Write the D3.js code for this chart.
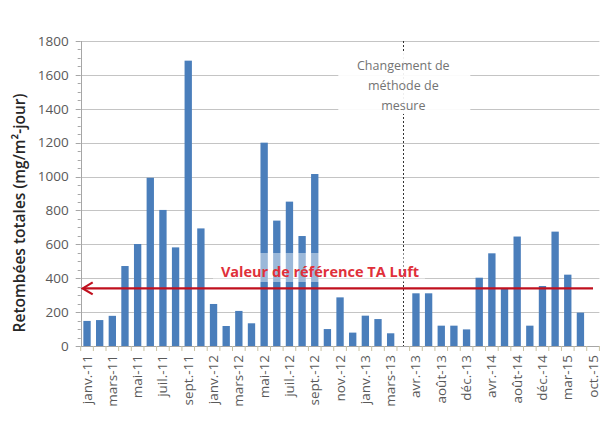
<!DOCTYPE html>
<html><head><meta charset="utf-8">
<script src="https://cdn.jsdelivr.net/npm/d3@7"></script>
<style>html,body{margin:0;padding:0;background:#fff;}svg{display:block;}</style>
</head><body>
<svg id="c" width="601" height="421"></svg>
<script>
const categories = ["janv.-11","févr.-11","mars-11","avr.-11","mai-11","juin-11","juil.-11","août-11","sept.-11","nov.-11",
  "janv.-12","févr.-12","mars-12","avr.-12","mai-12","juin-12","juil.-12","août-12","sept.-12","oct.-12",
  "nov.-12","déc.-12","janv.-13","févr.-13","mars-13","(changement)","avr.-13","juin-13","août-13","oct.-13",
  "déc.-13","févr.-14","avr.-14","juin-14","août-14","oct.-14","déc.-14","janv.-15","mar-15","juil.-15","oct.-15"];
const values = [148,153,178,472,602,993,803,582,1684,694,
  248,118,207,134,1200,740,852,649,1015,100,
  287,79,179,159,75,null,311,311,120,120,
  98,403,547,340,646,120,354,675,421,197,null];
const tickLabels = categories.map((c,i)=> i%2===0 ? c : "");
const yTicks = [0,200,400,600,800,1000,1200,1400,1600,1800];
const refValue = 340;
const refLabel = "Valeur de référence TA Luft";
const changeIndex = 25;
const changeLabel = ["Changement de","méthode de","mesure"];
const yTitle = "Retombées totales (mg/m²-jour)";

const svg = d3.select("#c");
const x0 = 80.7, x1 = 599.4, yTop = 41, yBot = 346;
const x = d3.scaleBand().domain(categories).range([x0,x1]).paddingInner(0.42).paddingOuter(0.21);
const y = d3.scaleLinear().domain([0,1800]).range([yBot,yTop]);
const font = "'Open Sans', sans-serif";

// gridlines
svg.append("g").selectAll("line").data(yTicks.filter(d=>d>0)).join("line")
  .attr("x1",x0).attr("x2",x1).attr("y1",d=>Math.round(y(d))+0.5).attr("y2",d=>Math.round(y(d))+0.5)
  .attr("stroke","#c4c4c4").attr("stroke-width",1);

// y minor ticks
const minor = d3.range(0,1801,50);
svg.append("g").selectAll("line").data(minor).join("line")
  .attr("x1",x0).attr("x2",d=> d%200===0 ? x0-5 : x0-3)
  .attr("y1",d=>Math.round(y(d))+0.5).attr("y2",d=>Math.round(y(d))+0.5)
  .attr("stroke","#a6a6a6");

// bars
svg.append("g").selectAll("rect").data(categories.map((c,i)=>({c,v:values[i]})).filter(d=>d.v!=null)).join("rect")
  .attr("x",d=>x(d.c)).attr("width",x.bandwidth())
  .attr("y",d=>y(d.v)).attr("height",d=>yBot-y(d.v))
  .attr("fill","#4a7ebb");

// axes lines
svg.append("line").attr("x1",Math.round(x0)+0.5).attr("x2",Math.round(x0)+0.5).attr("y1",yTop).attr("y2",yBot)
  .attr("stroke","#a6a6a6");
svg.append("line").attr("x1",x0).attr("x2",x1).attr("y1",yBot+0.5).attr("y2",yBot+0.5).attr("stroke","#a6a6a6");

// x ticks between categories
const step = x.step();
svg.append("g").selectAll("line").data(d3.range(categories.length+1)).join("line")
  .attr("x1",i=>x0+i*step).attr("x2",i=>x0+i*step).attr("y1",yBot).attr("y2",yBot+5)
  .attr("stroke","#c9c2a0");

// y tick labels
const yAxis = d3.axisLeft(y).tickValues(yTicks).tickFormat(d3.format("d")).tickSize(0).tickPadding(12);
const gy = svg.append("g").attr("transform",`translate(${x0},0)`).call(yAxis);
gy.select(".domain").remove();
gy.selectAll("text").attr("font-family",font).attr("font-size",13.5).attr("fill","#595959");

// x tick labels
svg.append("g").selectAll("text").data(categories.map((c,i)=>({c,l:tickLabels[i]})).filter(d=>d.l)).join("text")
  .attr("transform",d=>`translate(${x(d.c)+x.bandwidth()/2+4.5},${yBot+9}) rotate(-90)`)
  .attr("text-anchor","end").attr("font-family",font).attr("font-size",13.5).attr("fill","#595959")
  .text(d=>d.l);

// change of method dashed line
const cx = x(categories[changeIndex]) + x.bandwidth()/2;
svg.append("line").attr("x1",Math.round(cx)+0.5).attr("x2",Math.round(cx)+0.5).attr("y1",yTop).attr("y2",yBot)
  .attr("stroke","#333").attr("stroke-width",1).attr("stroke-dasharray","2,2");
svg.append("rect").attr("x",cx-65).attr("y",51).attr("width",132).attr("height",63).attr("fill","#fff").attr("opacity",0.92);
svg.append("g").selectAll("text").data(changeLabel).join("text")
  .attr("x",cx).attr("y",(d,i)=>70+i*20).attr("text-anchor","middle")
  .attr("font-family",font).attr("font-size",12.5).attr("fill","#737373").text(d=>d);

// reference line
const ry = y(refValue);
svg.append("rect").attr("x",213).attr("y",253).attr("width",212).attr("height",29).attr("fill","#fff").attr("opacity",0.45);
svg.append("text").attr("x",320).attr("y",277).attr("text-anchor","middle")
  .attr("font-family",font).attr("font-size",14.5).attr("font-weight","bold").attr("fill","#e0303a").text(refLabel);
svg.append("line").attr("x1",x0+2).attr("x2",593).attr("y1",ry).attr("y2",ry).attr("stroke","#c0101e").attr("stroke-width",2.2);
svg.append("path").attr("d",`M${x0+12},${ry-6} L${x0+2},${ry} L${x0+12},${ry+6}`)
  .attr("fill","none").attr("stroke","#c0101e").attr("stroke-width",2.2);

// y title
svg.append("text").attr("transform",`translate(25,213) rotate(-90)`).attr("text-anchor","middle")
  .attr("font-family",font).attr("font-size",15.5).attr("font-weight",600).attr("fill","#262626").text(yTitle);
</script>
</body></html>
